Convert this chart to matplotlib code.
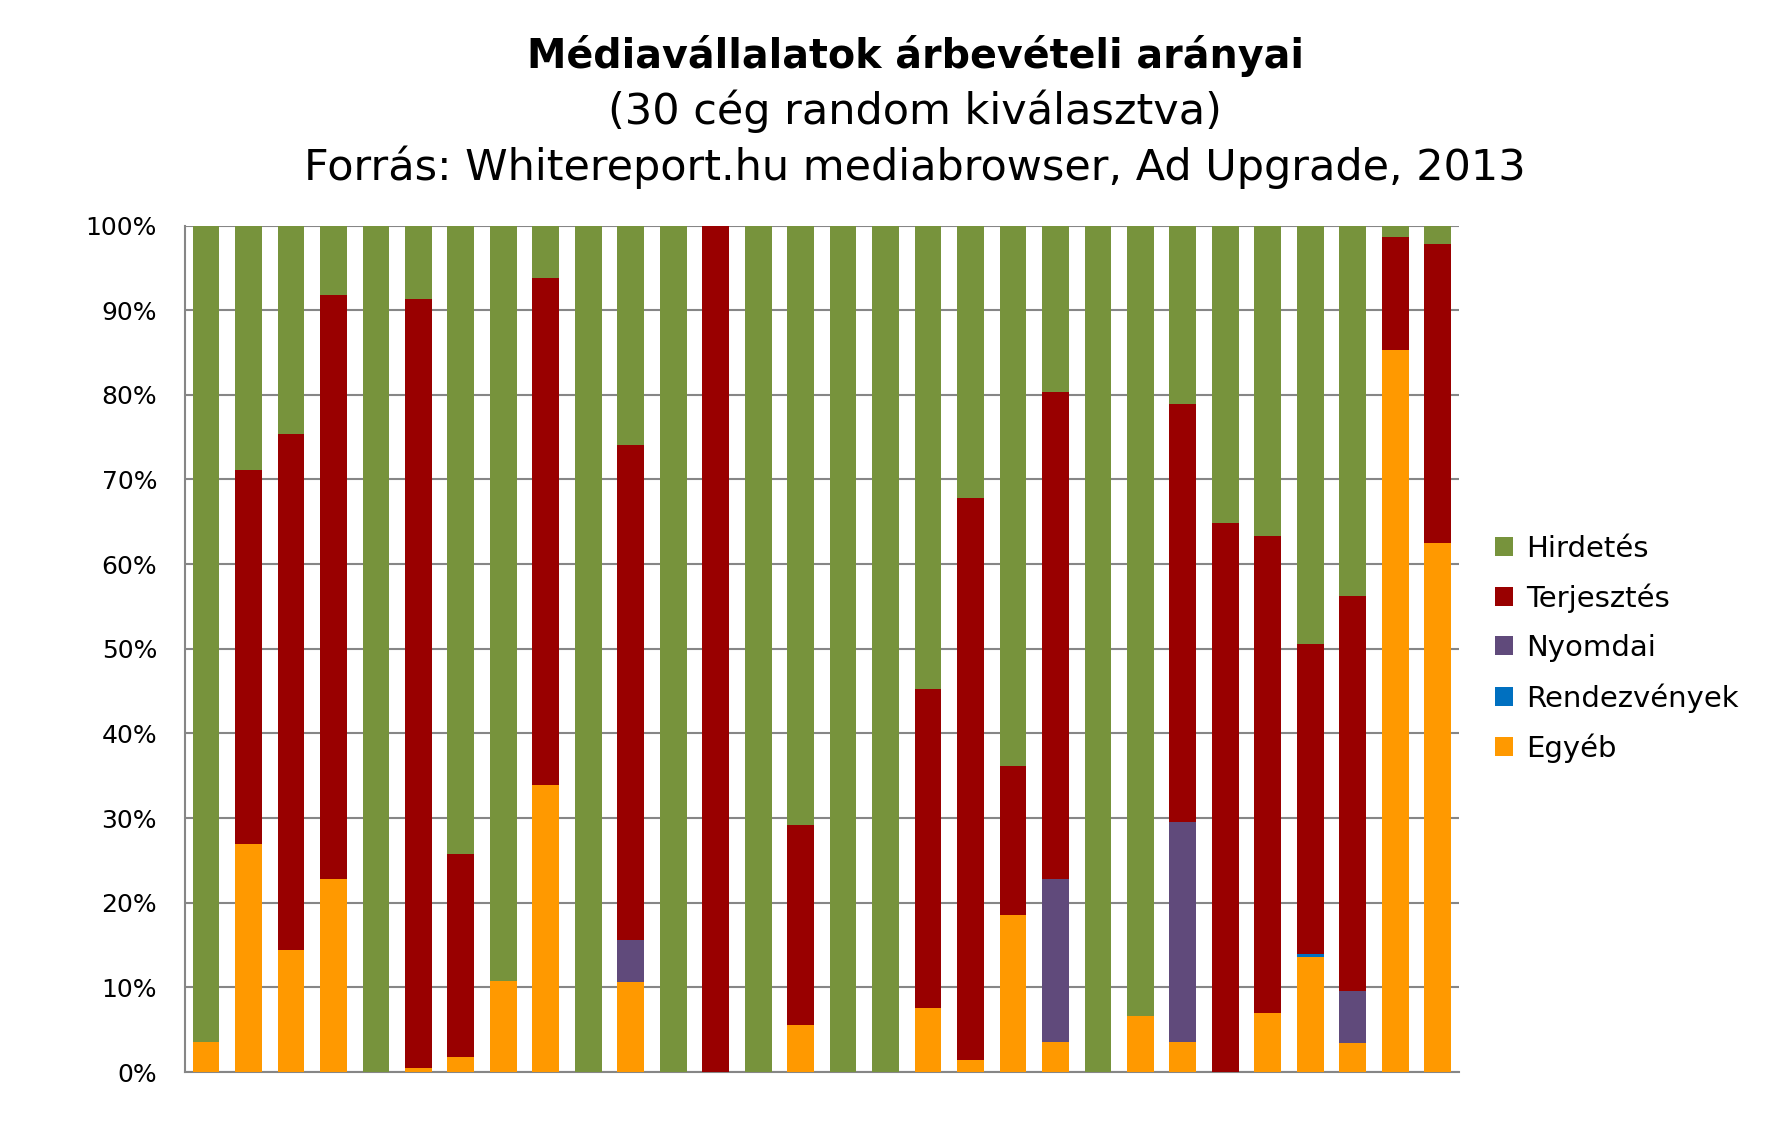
import numpy as np
import matplotlib
matplotlib.use('Agg')
import matplotlib.pyplot as plt
from matplotlib.ticker import PercentFormatter

# ============================================================
# Adatok (értékek, %)
# ============================================================
companies = [f"C{i}" for i in range(1, 31)]

egyeb = [3.6, 26.9, 14.4, 22.8, 0.0, 0.5, 1.8, 10.8, 33.9, 0.0,
         10.6, 0.0, 0.0, 0.0, 5.6, 0.0, 0.0, 7.6, 1.4, 18.5,
         3.6, 0.0, 6.6, 3.6, 0.0, 7.0, 13.6, 3.4, 85.3, 62.5]
rendezvenyek = [0.0, 0.0, 0.0, 0.0, 0.0, 0.0, 0.0, 0.0, 0.0, 0.0,
                0.0, 0.0, 0.0, 0.0, 0.0, 0.0, 0.0, 0.0, 0.0, 0.0,
                0.0, 0.0, 0.0, 0.0, 0.0, 0.0, 0.3, 0.0, 0.0, 0.0]
nyomdai = [0.0, 0.0, 0.0, 0.0, 0.0, 0.0, 0.0, 0.0, 0.0, 0.0,
           5.0, 0.0, 0.0, 0.0, 0.0, 0.0, 0.0, 0.0, 0.0, 0.0,
           19.2, 0.0, 0.0, 25.9, 0.0, 0.0, 0.0, 6.2, 0.0, 0.0]
terjesztes = [0.0, 44.2, 61.0, 69.0, 0.0, 90.8, 24.0, 0.0, 59.9, 0.0,
              58.5, 0.0, 100.0, 0.0, 23.6, 0.0, 0.0, 37.7, 66.4, 17.7,
              57.5, 0.0, 0.0, 49.4, 64.8, 56.3, 36.7, 46.6, 13.3, 35.3]
hirdetes = [96.4, 28.9, 24.6, 8.2, 100.0, 8.7, 74.2, 89.2, 6.2, 100.0,
            25.9, 100.0, 0.0, 100.0, 70.8, 100.0, 100.0, 54.7, 32.2, 63.8,
            19.7, 100.0, 93.4, 21.1, 35.2, 36.7, 49.4, 43.8, 1.4, 2.2]

series = [
    ("Egyéb", egyeb, "#FF9900"),
    ("Rendezvények", rendezvenyek, "#0070C0"),
    ("Nyomdai", nyomdai, "#604A7B"),
    ("Terjesztés", terjesztes, "#990000"),
    ("Hirdetés", hirdetes, "#77933C"),
]

# ============================================================
# Rajzolás
# ============================================================
plt.rcParams['font.family'] = ['DejaVu Sans']

fig = plt.figure(figsize=(17.77, 11.39), dpi=100)
ax = fig.add_axes([0.104, 0.0588, 0.717, 0.7432])

x = np.arange(len(companies))
bottom = np.zeros(len(companies))
handles = {}
for name, vals, color in series:
    vals = np.array(vals)
    b = ax.bar(x, vals, 0.63, bottom=bottom, color=color, label=name, zorder=3)
    handles[name] = b
    bottom += vals

ax.set_xlim(-0.5, len(companies) - 0.5)
ax.set_ylim(0, 100)
ax.set_yticks(np.arange(0, 101, 10))
ax.yaxis.set_major_formatter(PercentFormatter(decimals=0))
ax.tick_params(axis='y', labelsize=18, length=0, pad=20)
ax.set_xticks([])
ax.grid(True, axis='y', color='#868686', linewidth=1.5, zorder=0)
for s in ['top', 'right']:
    ax.spines[s].set_visible(False)
for s in ['left', 'bottom']:
    ax.spines[s].set_color('#868686')
    ax.spines[s].set_linewidth(1.5)

order = ["Hirdetés", "Terjesztés", "Nyomdai", "Rendezvények", "Egyéb"]
ax.legend([handles[n] for n in order], order, loc='center left',
          bbox_to_anchor=(1.008, 0.5), frameon=False, fontsize=21,
          handlelength=0.6, handleheight=0.6, handletextpad=0.45, labelspacing=0.72)

fig.text(0.515, 0.951, "Médiavállalatok árbevételi arányai", ha='center', va='center',
         fontsize=28.5, fontweight='bold')
fig.text(0.515, 0.902, "(30 cég random kiválasztva)", ha='center', va='center', fontsize=31)
fig.text(0.515, 0.853, "Forrás: Whitereport.hu mediabrowser, Ad Upgrade, 2013",
         ha='center', va='center', fontsize=31)

plt.savefig("out.png", dpi=100)
plt.close()
